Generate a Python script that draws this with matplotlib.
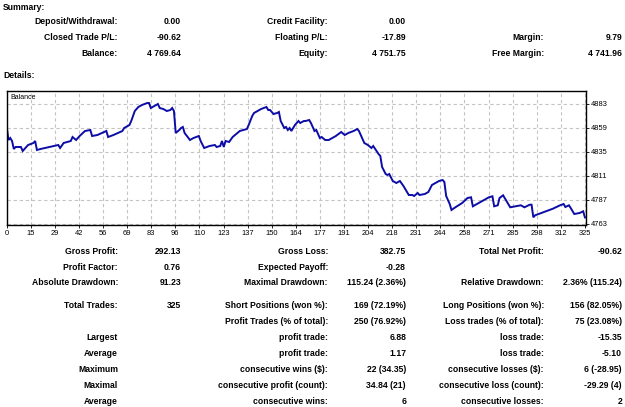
import matplotlib
matplotlib.use("Agg")
import matplotlib.pyplot as plt

# ---------------- data ----------------
trade_idx = [0, 1, 2, 3, 4, 5, 8, 9, 12, 15, 16, 17, 19, 24, 29, 30, 32, 36, 37, 39,
             41, 44, 47, 48, 51, 56, 57, 60, 65, 66, 69, 70, 72, 74, 76, 79, 80, 81, 83, 85,
             86, 88, 90, 92, 93, 94, 95, 97, 98, 99, 100, 103, 105, 108, 109, 111, 114, 117, 118, 120,
             121, 122, 123, 125, 127, 131, 135, 136, 138, 139, 143, 146, 147, 148, 150, 152, 153, 154, 156, 157,
             158, 159, 160, 162, 164, 165, 167, 168, 170, 171, 173, 174, 176, 177, 179, 181, 185, 188, 190, 192,
             195, 197, 198, 201, 203, 205, 206, 209, 210, 211, 213, 214, 215, 217, 219, 221, 223, 226, 228, 229,
             231, 232, 235, 237, 239, 243, 245, 246, 247, 249, 250, 252, 256, 259, 261, 262, 267, 271, 273, 274,
             276, 277, 279, 281, 283, 286, 289, 291, 294, 295, 296, 297, 302, 307, 311, 313, 314, 316, 317, 319,
             322, 324, 325]
balance = [4860.3, 4847, 4849, 4846, 4838, 4840, 4840, 4836, 4842, 4844, 4846, 4837, 4838, 4840, 4842, 4839, 4844, 4846, 4850, 4847,
           4851, 4856, 4857, 4851, 4852, 4856, 4850, 4852, 4856, 4859, 4862, 4866, 4876, 4880, 4882, 4884, 4884, 4879, 4881, 4883,
           4879, 4878, 4876, 4877, 4879, 4876, 4854, 4857, 4859, 4860, 4854, 4847, 4849, 4851, 4846, 4839, 4841, 4842, 4840, 4841,
           4846, 4840, 4846, 4845, 4850, 4856, 4858, 4862, 4871, 4874, 4878, 4880, 4877, 4877, 4873, 4874, 4875, 4866, 4859, 4860,
           4857, 4859, 4856, 4862, 4866, 4864, 4866, 4866, 4867, 4864, 4856, 4857, 4849, 4850, 4847, 4847, 4851, 4855, 4852, 4854,
           4856, 4858, 4856, 4844, 4842, 4839, 4841, 4833, 4831, 4820, 4813, 4812, 4813, 4806, 4804, 4806, 4801, 4792, 4792, 4791,
           4794, 4792, 4793, 4795, 4802, 4806, 4807, 4805, 4791, 4783, 4777, 4779.5, 4784, 4789, 4789.7, 4780.7, 4785.7, 4789.7, 4790.7, 4780.7,
           4781.7, 4789, 4791.7, 4785.7, 4779.7, 4780.7, 4781.7, 4779.7, 4782.3, 4782.3, 4769.7, 4771.7, 4775, 4778.3, 4781.7, 4783, 4780, 4781.7, 4779, 4773,
           4774, 4775.7, 4769.64]

n_trades = 325
x_tick_labels = ["0", "15", "29", "42", "56", "69", "83", "96", "110", "123", "137", "150", "164",
                 "177", "191", "204", "218", "231", "244", "258", "271", "285", "298", "312", "325"]
y_ticks = [4763, 4787, 4811, 4835, 4859, 4883]

summary_rows = [
    ["Deposit/Withdrawal:", "0.00", "Credit Facility:", "0.00", "", ""],
    ["Closed Trade P/L:", "-90.62", "Floating P/L:", "-17.89", "Margin:", "9.79"],
    ["Balance:", "4 769.64", "Equity:", "4 751.75", "Free Margin:", "4 741.96"],
]
detail_rows = [
    ["Gross Profit:", "292.13", "Gross Loss:", "382.75", "Total Net Profit:", "-90.62"],
    ["Profit Factor:", "0.76", "Expected Payoff:", "-0.28", "", ""],
    ["Absolute Drawdown:", "91.23", "Maximal Drawdown:", "115.24 (2.36%)", "Relative Drawdown:", "2.36% (115.24)"],
    ["Total Trades:", "325", "Short Positions (won %):", "169 (72.19%)", "Long Positions (won %):", "156 (82.05%)"],
    ["", "", "Profit Trades (% of total):", "250 (76.92%)", "Loss trades (% of total):", "75 (23.08%)"],
    ["Largest", "", "profit trade:", "6.88", "loss trade:", "-15.35"],
    ["Average", "", "profit trade:", "1.17", "loss trade:", "-5.10"],
    ["Maximum", "", "consecutive wins ($):", "22 (34.35)", "consecutive losses ($):", "6 (-28.95)"],
    ["Maximal", "", "consecutive profit (count):", "34.84 (21)", "consecutive loss (count):", "-29.29 (4)"],
    ["Average", "", "consecutive wins:", "6", "consecutive losses:", "2"],
]

# ---------------- layout ----------------
W, H = 625, 407
fig = plt.figure(figsize=(W / 100, H / 100), dpi=100)
fig.patch.set_facecolor("white")


def fx(x):
    return x / W


def fy(y):
    return 1 - y / H


FONT = "Liberation Sans"
FS = 6.2
col_right = [118, 181, 328, 406, 544, 622]


def put(x, y, s, ha="right", weight="bold", size=FS):
    fig.text(fx(x), fy(y), s, ha=ha, va="center", fontsize=size,
             fontweight=weight, family=FONT, color="black")


put(3, 7, "Summary:", ha="left")
summary_y = [22, 38, 54]
for row, y in zip(summary_rows, summary_y):
    for s, x in zip(row, col_right):
        if s:
            put(x, y, s)

put(3, 75, "Details:", ha="left")
detail_y = [251.5, 267, 282.5, 305, 322, 338, 354, 370, 386, 401]
for row, y in zip(detail_rows, detail_y):
    for s, x in zip(row, col_right):
        if s:
            put(x, y, s)

# ---------------- chart ----------------
left, right, top, bottom = 6.7, 586, 90.7, 224.7
ax = fig.add_axes([fx(left), fy(bottom), fx(right) - fx(left), fy(top) - fy(bottom)])
ax.plot(trade_idx, balance, color="#0c0ca6", lw=1.4, solid_joinstyle="miter")
ax.set_xlim(0, 325.6)
ax.set_ylim(4762.3, 4896.3)
xt = [i * n_trades / 24 for i in range(25)]
ax.set_xticks(xt)
ax.set_xticklabels(x_tick_labels)
ax.yaxis.tick_right()
ax.set_yticks(y_ticks)
ax.set_yticklabels([str(v) for v in y_ticks])
ax.grid(True, color="#c4c4c4", linestyle=(0, (3, 2.5)), linewidth=0.8)
ax.tick_params(axis="both", labelsize=5.4, length=2, width=0.6, pad=1.5, colors="black")
for lab in ax.get_xticklabels() + ax.get_yticklabels():
    lab.set_family(FONT)
for s in ax.spines.values():
    s.set_linewidth(1.0)
    s.set_color("black")
ax.text(0.006, 0.975, "Balance", transform=ax.transAxes, ha="left", va="top",
        fontsize=5.0, family=FONT)

fig.savefig("out.png", dpi=100, facecolor="white")
